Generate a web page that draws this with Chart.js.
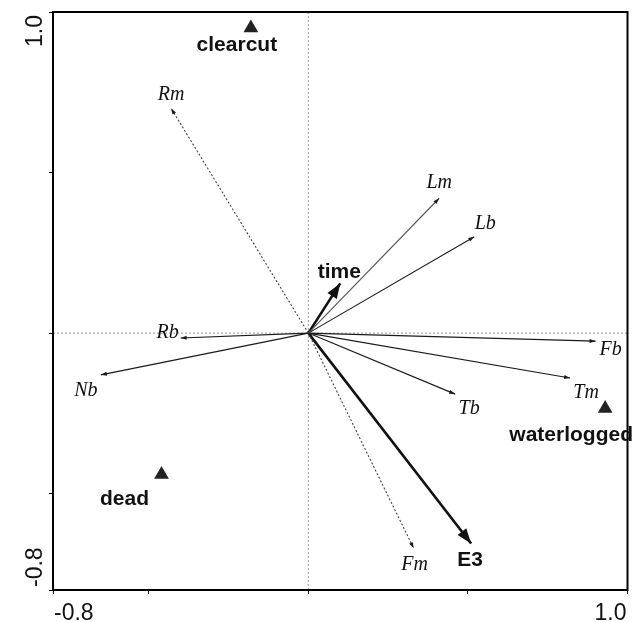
<!DOCTYPE html>
<html>
<head>
<meta charset="utf-8">
<script src="https://cdn.jsdelivr.net/npm/chart.js@4.4.0/dist/chart.umd.min.js"></script>
<style>
  html, body { margin: 0; padding: 0; background: #fff; }
  #wrap { width: 636px; height: 622px; position: relative; }
</style>
</head>
<body>
<div id="wrap"><canvas id="biplot"></canvas></div>
<script>
/* ── Data ─────────────────────────────────────────────────────────────── */
// species arrows (thin, italic labels)
const speciesNames = ['Rm', 'Lm', 'Lb', 'Rb', 'Nb', 'Fb', 'Tm', 'Tb', 'Fm'];
const speciesX     = [-0.43, 0.41, 0.52, -0.40, -0.65, 0.90, 0.82, 0.46, 0.33];
const speciesY     = [0.70, 0.42, 0.30, -0.015, -0.13, -0.025, -0.14, -0.19, -0.67];

// explanatory variables (bold arrows)
const envNames = ['time', 'E3'];
const envX     = [0.10, 0.51];
const envY     = [0.155, -0.655];

// site classes (triangles)
const siteNames = ['clearcut', 'dead', 'waterlogged'];
const siteX     = [-0.18, -0.46, 0.93];
const siteY     = [0.95, -0.44, -0.235];

// axes
const axisMin    = -0.8;
const axisMax    = 1.0;
const tickValues = [-0.8, -0.5, 0, 0.5, 1.0];
const tickLabels = ['-0.8', '', '', '', '1.0'];

/* ── Styles (label offsets in px, line looks) ────────────────────────── */
const speciesLabelOffset = {
  Rm: [0, -14, 'center'], Lm: [0, -15, 'center'], Lb: [11, -13, 'center'],
  Rb: [-2, -5, 'right'],  Nb: [-15, 16, 'center'], Fb: [15, 9, 'center'],
  Tm: [16, 15, 'center'], Tb: [14, 15, 'center'], Fm: [1, 16, 'center']
};
const speciesDash  = { Rm: [2, 2], Fm: [2, 2] };
const speciesColor = { Rm: '#444', Fm: '#444', Lm: '#555' };
const envLabelOffset  = { time: [-1, -11], E3: [-1, 17] };
const siteLabelOffset = { clearcut: [-14, 17], dead: [-37, 25], waterlogged: [-34, 27] };

/* ── Datasets ─────────────────────────────────────────────────────────── */
const datasets = [];
speciesNames.forEach((n, i) => {
  datasets.push({
    label: n, kind: 'species',
    data: [{ x: 0, y: 0 }, { x: speciesX[i], y: speciesY[i] }],
    showLine: true, pointRadius: 0,
    borderColor: speciesColor[n] || '#1a1a1a',
    borderWidth: 1.1,
    borderDash: speciesDash[n] || []
  });
});
envNames.forEach((n, i) => {
  datasets.push({
    label: n, kind: 'env',
    data: [{ x: 0, y: 0 }, { x: envX[i], y: envY[i] }],
    showLine: true, pointRadius: 0,
    borderColor: '#111', borderWidth: 2.6
  });
});
datasets.push({
  label: 'sites', kind: 'sites',
  data: siteX.map((x, i) => ({ x: x, y: siteY[i] })),
  showLine: false, pointStyle: 'triangle', pointRadius: 8.5,
  backgroundColor: '#222', borderColor: '#222', borderWidth: 0
});

/* ── Plugins ──────────────────────────────────────────────────────────── */
function arrowHead(ctx, x0, y0, x1, y1, len, half, color) {
  const a = Math.atan2(y1 - y0, x1 - x0);
  const c = Math.cos(a), s = Math.sin(a);
  ctx.beginPath();
  ctx.moveTo(x1, y1);
  ctx.lineTo(x1 - len * c + half * s, y1 - len * s - half * c);
  ctx.lineTo(x1 - len * c - half * s, y1 - len * s + half * c);
  ctx.closePath();
  ctx.fillStyle = color;
  ctx.fill();
}

const zeroLines = {
  id: 'zeroLines',
  beforeDatasetsDraw(chart) {
    const { ctx, chartArea: a, scales: { x, y } } = chart;
    const px = x.getPixelForValue(0), py = y.getPixelForValue(0);
    ctx.save();
    ctx.strokeStyle = '#999';
    ctx.lineWidth = 1;
    ctx.setLineDash([2, 2]);
    ctx.beginPath();
    ctx.moveTo(px, a.top); ctx.lineTo(px, a.bottom);
    ctx.moveTo(a.left, py); ctx.lineTo(a.right, py);
    ctx.stroke();
    ctx.restore();
  }
};

const decorations = {
  id: 'decorations',
  afterDatasetsDraw(chart) {
    const { ctx } = chart;
    ctx.save();
    chart.data.datasets.forEach((ds, i) => {
      const meta = chart.getDatasetMeta(i);
      if (ds.kind === 'species' || ds.kind === 'env') {
        const p0 = meta.data[0], p1 = meta.data[1];
        if (ds.kind === 'env') arrowHead(ctx, p0.x, p0.y, p1.x, p1.y, 15, 5.5, '#111');
        else arrowHead(ctx, p0.x, p0.y, p1.x, p1.y, 6, 2, '#1a1a1a');
        ctx.fillStyle = '#111';
        if (ds.kind === 'species') {
          const o = speciesLabelOffset[ds.label];
          ctx.font = 'italic 20px "Liberation Serif", "DejaVu Serif", serif';
          ctx.textAlign = o[2];
          ctx.textBaseline = 'middle';
          ctx.fillText(ds.label, p1.x + o[0], p1.y + o[1]);
        } else {
          const o = envLabelOffset[ds.label];
          ctx.font = 'bold 21px "Liberation Sans", Arial, sans-serif';
          ctx.textAlign = 'center';
          ctx.textBaseline = 'middle';
          ctx.fillText(ds.label, p1.x + o[0], p1.y + o[1]);
        }
      } else if (ds.kind === 'sites') {
        meta.data.forEach((pt, j) => {
          const o = siteLabelOffset[siteNames[j]];
          ctx.font = 'bold 21px "Liberation Sans", Arial, sans-serif';
          ctx.fillStyle = '#111';
          ctx.textAlign = 'center';
          ctx.textBaseline = 'middle';
          ctx.fillText(siteNames[j], pt.x + o[0], pt.y + o[1]);
        });
      }
    });
    ctx.restore();
  },
  afterDraw(chart) {
    const { ctx, chartArea: a, scales: { x, y } } = chart;
    ctx.save();
    // frame
    ctx.strokeStyle = '#000';
    ctx.lineWidth = 2;
    ctx.strokeRect(a.left, a.top, a.right - a.left, a.bottom - a.top);
    // axis end labels
    ctx.fillStyle = '#111';
    ctx.font = '23px "Liberation Sans", Arial, sans-serif';
    ctx.textBaseline = 'alphabetic';
    tickValues.forEach((v, i) => {
      const t = tickLabels[i];
      if (!t) return;
      const px = x.getPixelForValue(v);
      ctx.textAlign = i === 0 ? 'left' : 'right';
      ctx.fillText(t, px + (i === 0 ? 1 : -1), a.bottom + 30);
    });
    tickValues.forEach((v, i) => {
      const t = tickLabels[i];
      if (!t) return;
      const py = y.getPixelForValue(v);
      ctx.save();
      ctx.translate(42, py + (i === 0 ? -3 : 3));
      ctx.rotate(-Math.PI / 2);
      ctx.textAlign = i === 0 ? 'left' : 'right';
      ctx.fillText(t, 0, 0);
      ctx.restore();
    });
    ctx.restore();
  }
};

/* ── Chart ────────────────────────────────────────────────────────────── */
function axis() {
  return {
    type: 'linear', min: axisMin, max: axisMax,
    afterBuildTicks: s => { s.ticks = tickValues.map(v => ({ value: v })); },
    ticks: { display: false },
    grid: { display: true, drawOnChartArea: false, drawTicks: true, tickLength: 4, color: '#000', lineWidth: 1 },
    border: { display: false }
  };
}

new Chart(document.getElementById('biplot').getContext('2d'), {
  type: 'scatter',
  data: { datasets: datasets },
  options: {
    responsive: true, maintainAspectRatio: false, animation: false,
    layout: { padding: { left: 49, top: 12, right: 7, bottom: 28 } },
    plugins: { legend: { display: false }, tooltip: { enabled: false } },
    scales: { x: axis(), y: axis() }
  },
  plugins: [zeroLines, decorations]
});
</script>
</body>
</html>
